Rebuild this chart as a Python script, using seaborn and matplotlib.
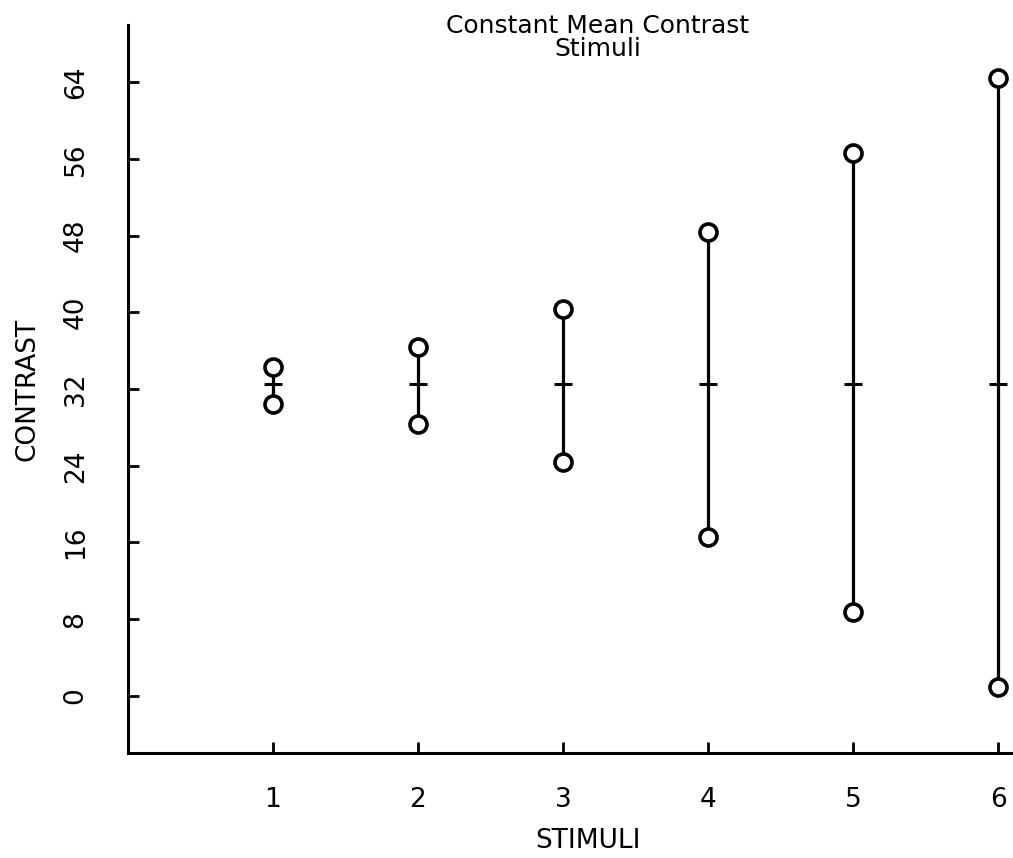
# Constant mean contrast stimuli: range of contrast for each stimulus pair
import numpy as np
import pandas as pd
import seaborn as sns
import matplotlib
matplotlib.use("Agg")
import matplotlib.pyplot as plt

stimuli = [1, 2, 3, 4, 5, 6]
high_contrast = [34.3, 36.4, 40.4, 48.4, 56.6, 64.5]
low_contrast = [30.4, 28.4, 24.4, 16.6, 8.7, 0.9]
mean_contrast = [32.5, 32.5, 32.5, 32.5, 32.5, 32.5]
y_ticks = [0, 8, 16, 24, 32, 40, 48, 56, 64]

sns.set_style("ticks")
plt.rcParams['font.family'] = ['DejaVu Sans']
plt.rcParams['text.color'] = 'black'
plt.rcParams['axes.labelcolor'] = 'black'
plt.rcParams['xtick.color'] = 'black'
plt.rcParams['ytick.color'] = 'black'
plt.rcParams['axes.edgecolor'] = 'black'

df = pd.DataFrame({
    "stim": stimuli * 2,
    "contrast": high_contrast + low_contrast,
})
means = pd.DataFrame({"stim": stimuli, "contrast": mean_contrast})

fig = plt.figure(figsize=(10.13, 8.58), dpi=100)
ax = fig.add_axes([0.126, 0.122, 0.874, 0.849])

ax.vlines(stimuli, low_contrast, high_contrast, color="black", linewidth=2.3, zorder=1)
sns.scatterplot(data=means, x="stim", y="contrast", marker="_", s=180,
                color="black", linewidth=2.2, ax=ax, zorder=2)
sns.scatterplot(data=df, x="stim", y="contrast", marker="o", s=150,
                facecolor="white", edgecolor="black", linewidth=2.6, ax=ax, zorder=3)

ax.set_xlim(0, 6.1)
ax.set_ylim(-6, 70)
ax.set_xticks(stimuli)
ax.set_yticks(y_ticks)
ax.tick_params(axis="both", direction="in", length=8, width=2, labelsize=19)
ax.tick_params(axis="x", pad=24)
ax.tick_params(axis="y", pad=28, labelrotation=90)
for lab in ax.get_yticklabels():
    lab.set_va("center")

for side in ["top", "right"]:
    ax.spines[side].set_visible(False)
for side in ["left", "bottom"]:
    ax.spines[side].set_linewidth(2.2)

ax.set_xlabel("STIMULI", fontsize=19)
ax.set_ylabel("CONTRAST", fontsize=19)
ax.xaxis.set_label_coords(0.52, -0.121)
ax.yaxis.set_label_coords(-0.113, 0.5)
ax.xaxis.label.set_va("center")
ax.yaxis.label.set_va("center")

fig.text(0.59, 0.984, "Constant Mean Contrast\nStimuli", ha="center", va="top",
         fontsize=18, linespacing=0.95)

fig.savefig("out.png", dpi=100)
